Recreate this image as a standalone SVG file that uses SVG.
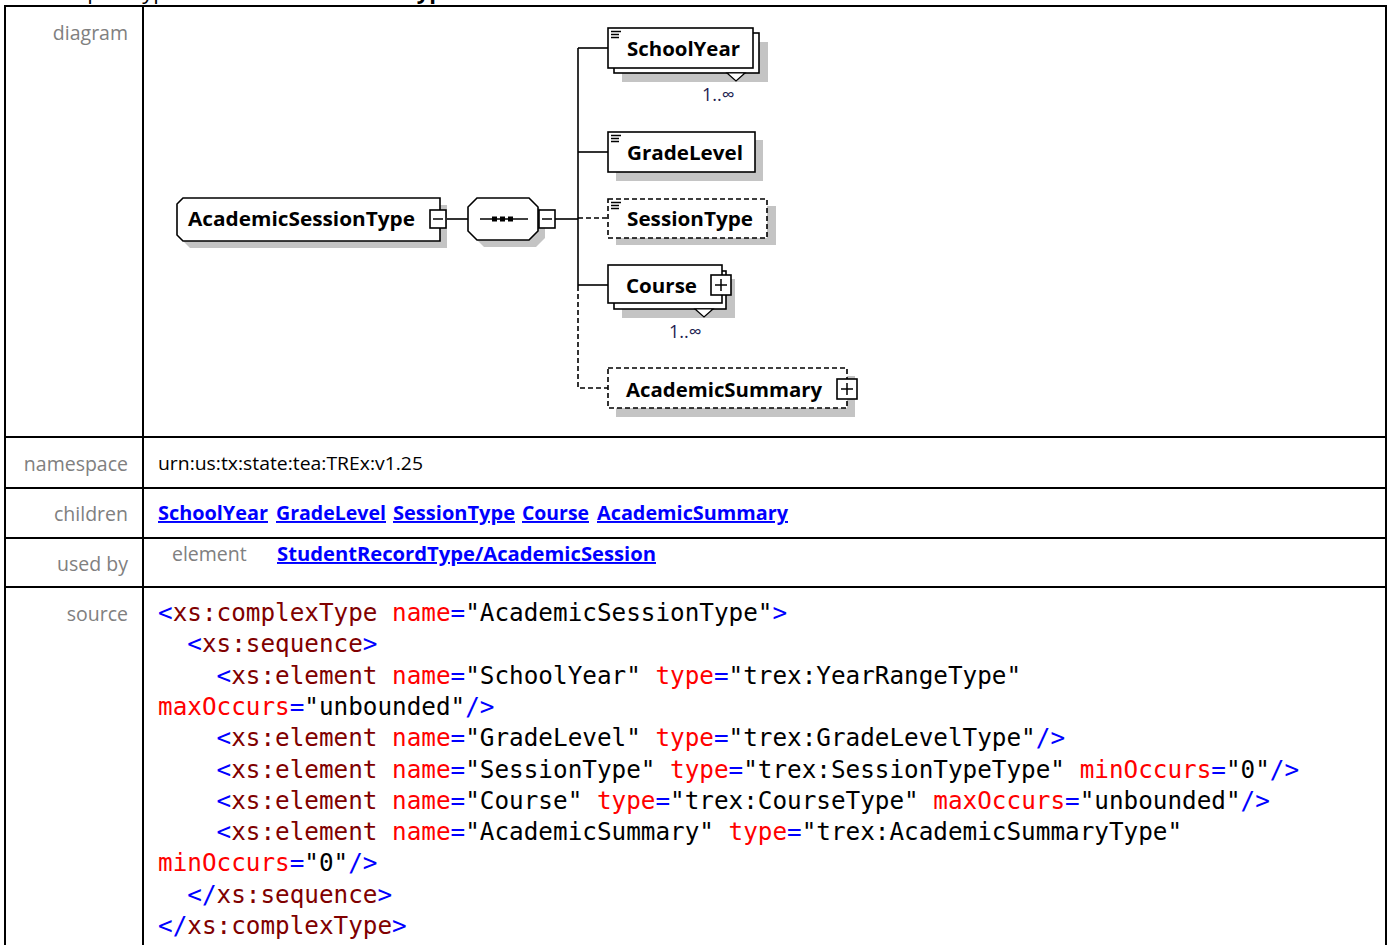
<svg xmlns="http://www.w3.org/2000/svg" width="1391" height="945" viewBox="0 0 1391 945">
<style>
.lbl{font-family:"Open Sans","Noto Sans",sans-serif;font-size:19.5px;fill:#808080}
.nm{font-family:"Open Sans","Noto Sans",sans-serif;font-size:20px;font-weight:bold;fill:#000}
.lnk{font-family:"Open Sans","Noto Sans",sans-serif;font-size:19.5px;font-weight:bold;fill:#0000ff;text-decoration:underline}
.mult{font-family:"Open Sans","Noto Sans",sans-serif;font-size:18px;fill:#1c1c50}
.box{fill:#fff;stroke:#000;stroke-width:1.6}
.dbox{fill:#fff;stroke:#000;stroke-width:1.6;stroke-dasharray:5,3}
.shd{fill:#c4c4c4;stroke:none}
.ln{fill:none;stroke:#000;stroke-width:1.6}
.dln{fill:none;stroke:#000;stroke-width:1.6;stroke-dasharray:5,3}
.ic{stroke:#000;stroke-width:1.5}
.grid{fill:none;stroke:#000;stroke-width:2}
.code{font-family:"DejaVu Sans Mono","Liberation Mono",monospace;font-size:24.3px;fill:#000}
.t{fill:#800000}.a{fill:#ff0000}.p{fill:#0000ff}
</style>

<!-- cut-off heading -->
<g id="heading">
<text x="43" y="-1" font-family="Open Sans, sans-serif" font-size="22" fill="#000">complexType</text>
<text x="216" y="-1" font-family="Open Sans, sans-serif" font-size="22" font-weight="bold" fill="#000">AcademicSessionType</text>
</g>

<!-- table grid -->
<g id="table">
<path class="grid" d="M5,945 V6 H1386 V945"/>
<line class="grid" x1="143" y1="6" x2="143" y2="945"/>
<line class="grid" x1="5" y1="437" x2="1386" y2="437"/>
<line class="grid" x1="5" y1="488" x2="1386" y2="488"/>
<line class="grid" x1="5" y1="538" x2="1386" y2="538"/>
<line class="grid" x1="5" y1="587" x2="1386" y2="587"/>
<text class="lbl" x="128" y="40" text-anchor="end">diagram</text>
<text class="lbl" x="128" y="471" text-anchor="end">namespace</text>
<text class="lbl" x="128" y="521" text-anchor="end">children</text>
<text class="lbl" x="128" y="571" text-anchor="end">used by</text>
<text class="lbl" x="128" y="621" text-anchor="end">source</text>
</g>

<!-- connectors -->
<g id="connectors">
<line class="ln" x1="446" y1="219" x2="468" y2="219"/>
<line class="ln" x1="555" y1="219" x2="578" y2="219"/>
<line class="ln" x1="578" y1="48" x2="578" y2="286"/>
<path class="dln" d="M578,286 V388 H608"/>
<line class="ln" x1="578" y1="48" x2="608" y2="48"/>
<line class="ln" x1="578" y1="152" x2="608" y2="152"/>
<line class="dln" x1="578" y1="218" x2="608" y2="218"/>
<line class="ln" x1="578" y1="285" x2="608" y2="285"/>
</g>

<g id="node-AcademicSessionType">
<path class="shd" d="M190,205 L447,205 L447,248 L190,248 L184,242 L184,211 Z"/>
<path class="box" d="M183,198 L440,198 L440,241 L183,241 L177,235 L177,204 Z"/>
<text class="nm" x="188" y="226" textLength="227" lengthAdjust="spacingAndGlyphs">AcademicSessionType</text>
<rect class="box" x="430" y="210" width="16" height="18"/>
<line class="ic" x1="433" y1="219" x2="443" y2="219"/>
</g>

<g id="node-sequence">
<path class="shd" d="M484,205 L536,205 L545,214 L545,238 L536,247 L484,247 L475,238 L475,214 Z"/>
<path class="box" d="M477,198 L529,198 L538,207 L538,231 L529,240 L477,240 L468,231 L468,207 Z"/>
<line x1="480" y1="219" x2="528" y2="219" stroke="#000" stroke-width="1.4"/>
<rect x="492" y="216.5" width="5" height="5" fill="#000"/>
<rect x="500" y="216.5" width="5" height="5" fill="#000"/>
<rect x="508" y="216.5" width="5" height="5" fill="#000"/>
<rect class="box" x="539" y="210" width="16" height="18"/>
<line class="ic" x1="542" y1="219" x2="552" y2="219"/>
</g>

<g id="node-SchoolYear">
<rect class="shd" x="622" y="42" width="146" height="40"/>
<rect class="box" x="614" y="33" width="145" height="40"/>
<rect class="box" x="608" y="28" width="145" height="40"/>
<line class="ic" x1="611" y1="31.5" x2="621" y2="31.5"/>
<line class="ic" x1="611" y1="34.5" x2="619" y2="34.5"/>
<line class="ic" x1="611" y1="37.5" x2="619" y2="37.5"/>
<text class="nm" x="627" y="56" textLength="113" lengthAdjust="spacingAndGlyphs">SchoolYear</text>
<polygon points="727,73 745,73 736,81" fill="#fff" stroke="#000" stroke-width="1.2"/>
<text class="mult" x="702" y="101">1..∞</text>
</g>

<g id="node-GradeLevel">
<rect class="shd" x="616" y="140" width="147" height="41"/>
<rect class="box" x="608" y="132" width="147" height="40"/>
<line class="ic" x1="611" y1="135.5" x2="621" y2="135.5"/>
<line class="ic" x1="611" y1="138.5" x2="619" y2="138.5"/>
<line class="ic" x1="611" y1="141.5" x2="619" y2="141.5"/>
<text class="nm" x="627" y="160" textLength="116" lengthAdjust="spacingAndGlyphs">GradeLevel</text>
</g>

<g id="node-SessionType">
<rect class="shd" x="616" y="206" width="160" height="39"/>
<rect class="dbox" x="608" y="199" width="159" height="39"/>
<line class="ic" x1="611" y1="202.5" x2="621" y2="202.5"/>
<line class="ic" x1="611" y1="205.5" x2="619" y2="205.5"/>
<line class="ic" x1="611" y1="208.5" x2="619" y2="208.5"/>
<text class="nm" x="627" y="226" textLength="126" lengthAdjust="spacingAndGlyphs">SessionType</text>
</g>

<g id="node-Course">
<rect class="shd" x="622" y="279" width="113" height="39"/>
<rect class="box" x="614" y="271" width="112" height="38"/>
<rect class="box" x="608" y="265" width="114" height="38"/>
<text class="nm" x="626" y="293" textLength="71" lengthAdjust="spacingAndGlyphs">Course</text>
<rect class="box" x="711" y="275" width="20" height="20"/>
<line class="ic" x1="715" y1="285" x2="727" y2="285"/>
<line class="ic" x1="721" y1="279" x2="721" y2="291"/>
<polygon points="695,309 713,309 704,317" fill="#fff" stroke="#000" stroke-width="1.2"/>
<text class="mult" x="669" y="338">1..∞</text>
</g>

<g id="node-AcademicSummary">
<rect class="shd" x="616" y="376" width="239" height="41"/>
<rect class="dbox" x="608" y="368" width="239" height="40"/>
<text class="nm" x="626" y="397" textLength="196" lengthAdjust="spacingAndGlyphs">AcademicSummary</text>
<rect class="box" x="837" y="379" width="20" height="20"/>
<line class="ic" x1="841" y1="389" x2="853" y2="389"/>
<line class="ic" x1="847" y1="383" x2="847" y2="395"/>
</g>

<!-- rows -->
<g id="row-namespace">
<text x="158" y="470" font-family="Open Sans, Noto Sans, sans-serif" font-size="18" fill="#000" textLength="265" lengthAdjust="spacingAndGlyphs">urn:us:tx:state:tea:TREx:v1.25</text>
</g>
<g id="row-children">
<text class="lnk" x="158" y="520" textLength="110" lengthAdjust="spacingAndGlyphs">SchoolYear</text>
<text class="lnk" x="276" y="520" textLength="110" lengthAdjust="spacingAndGlyphs">GradeLevel</text>
<text class="lnk" x="393" y="520" textLength="122" lengthAdjust="spacingAndGlyphs">SessionType</text>
<text class="lnk" x="522" y="520" textLength="67" lengthAdjust="spacingAndGlyphs">Course</text>
<text class="lnk" x="597" y="520" textLength="191" lengthAdjust="spacingAndGlyphs">AcademicSummary</text>
</g>
<g id="row-usedby">
<text class="lbl" x="172" y="561">element</text>
<text class="lnk" x="277" y="561" textLength="379" lengthAdjust="spacingAndGlyphs">StudentRecordType/AcademicSession</text>
</g>

<g id="row-source" class="code">
<text x="158" y="621" xml:space="preserve"><tspan class="p">&lt;</tspan><tspan class="t">xs:complexType</tspan> <tspan class="a">name</tspan><tspan class="p">=</tspan>"AcademicSessionType"<tspan class="p">&gt;</tspan></text>
<text x="158" y="652.3" xml:space="preserve">  <tspan class="p">&lt;</tspan><tspan class="t">xs:sequence</tspan><tspan class="p">&gt;</tspan></text>
<text x="158" y="683.6" xml:space="preserve">    <tspan class="p">&lt;</tspan><tspan class="t">xs:element</tspan> <tspan class="a">name</tspan><tspan class="p">=</tspan>"SchoolYear" <tspan class="a">type</tspan><tspan class="p">=</tspan>"trex:YearRangeType"</text>
<text x="158" y="714.9" xml:space="preserve"><tspan class="a">maxOccurs</tspan><tspan class="p">=</tspan>"unbounded"<tspan class="p">/&gt;</tspan></text>
<text x="158" y="746.2" xml:space="preserve">    <tspan class="p">&lt;</tspan><tspan class="t">xs:element</tspan> <tspan class="a">name</tspan><tspan class="p">=</tspan>"GradeLevel" <tspan class="a">type</tspan><tspan class="p">=</tspan>"trex:GradeLevelType"<tspan class="p">/&gt;</tspan></text>
<text x="158" y="777.5" xml:space="preserve">    <tspan class="p">&lt;</tspan><tspan class="t">xs:element</tspan> <tspan class="a">name</tspan><tspan class="p">=</tspan>"SessionType" <tspan class="a">type</tspan><tspan class="p">=</tspan>"trex:SessionTypeType" <tspan class="a">minOccurs</tspan><tspan class="p">=</tspan>"0"<tspan class="p">/&gt;</tspan></text>
<text x="158" y="808.8" xml:space="preserve">    <tspan class="p">&lt;</tspan><tspan class="t">xs:element</tspan> <tspan class="a">name</tspan><tspan class="p">=</tspan>"Course" <tspan class="a">type</tspan><tspan class="p">=</tspan>"trex:CourseType" <tspan class="a">maxOccurs</tspan><tspan class="p">=</tspan>"unbounded"<tspan class="p">/&gt;</tspan></text>
<text x="158" y="840.1" xml:space="preserve">    <tspan class="p">&lt;</tspan><tspan class="t">xs:element</tspan> <tspan class="a">name</tspan><tspan class="p">=</tspan>"AcademicSummary" <tspan class="a">type</tspan><tspan class="p">=</tspan>"trex:AcademicSummaryType"</text>
<text x="158" y="871.4" xml:space="preserve"><tspan class="a">minOccurs</tspan><tspan class="p">=</tspan>"0"<tspan class="p">/&gt;</tspan></text>
<text x="158" y="902.7" xml:space="preserve">  <tspan class="p">&lt;/</tspan><tspan class="t">xs:sequence</tspan><tspan class="p">&gt;</tspan></text>
<text x="158" y="934" xml:space="preserve"><tspan class="p">&lt;/</tspan><tspan class="t">xs:complexType</tspan><tspan class="p">&gt;</tspan></text>
</g>
</svg>
